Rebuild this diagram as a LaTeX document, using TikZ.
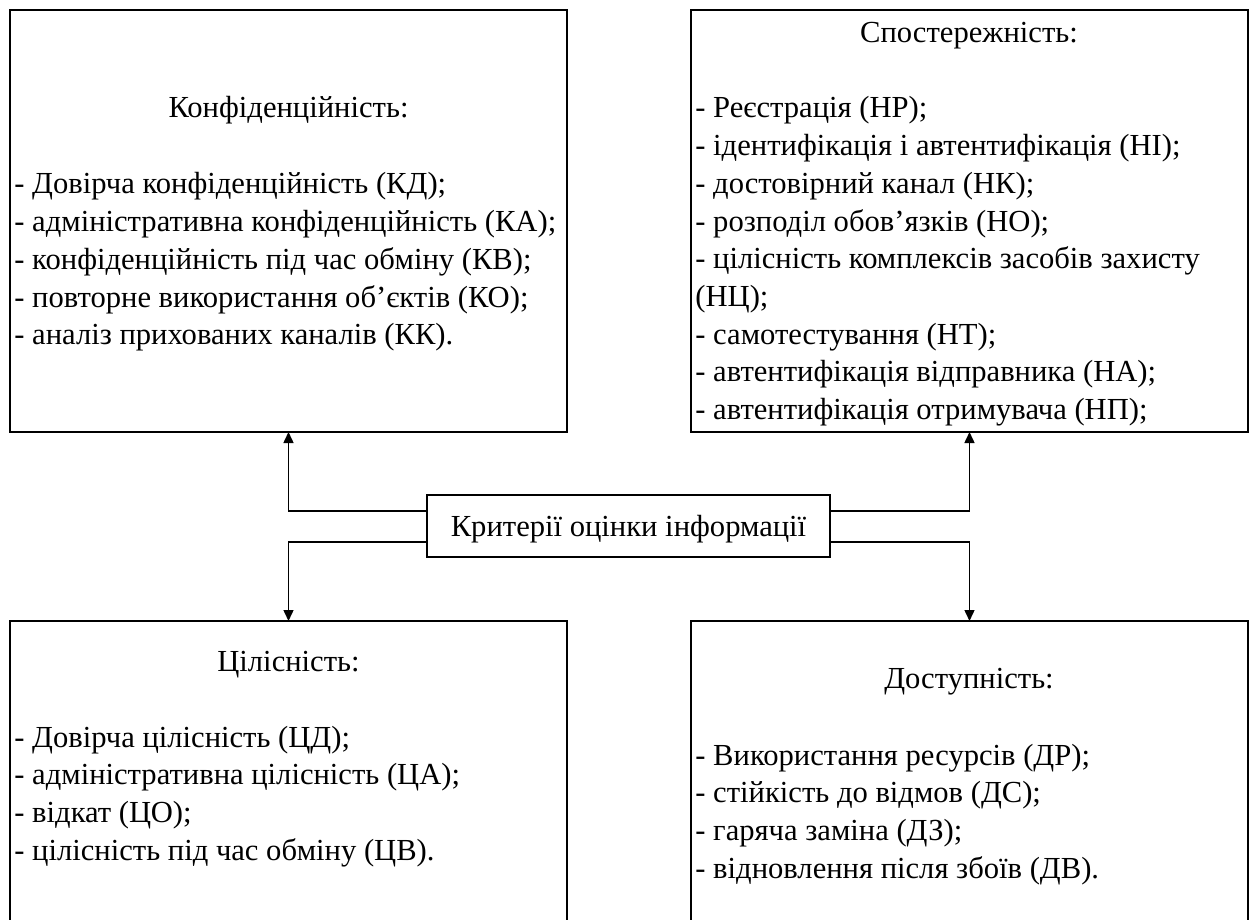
\documentclass[tikz,border=0pt]{standalone}
\usepackage{fontspec}
\setmainfont{Liberation Serif}
\usetikzlibrary{arrows.meta}

\begin{document}
\begin{tikzpicture}[x=0.5pt,y=-0.5pt,
  frame/.style={draw, line width=0.75pt, inner sep=0pt, outer sep=0pt},
  bigbox/.style={frame, anchor=north west, minimum width=278.5pt, minimum height=211pt},
  lowbox/.style={frame, anchor=north west, minimum width=278.5pt, minimum height=165pt},
  txt/.style={inner sep=0pt, font=\fontsize{15.3pt}{18.85pt}\selectfont},
  line/.style={txt, anchor=base west},
  head/.style={txt, anchor=base},
  arr/.style={line width=0.75pt, -{Triangle[length=5.5pt,width=5pt]}}]
\useasboundingbox (0,0) rectangle (1250,920);
\clip (0,0) rectangle (1250,920);

% four criterion boxes and the central one
\node[bigbox] (conf) at (10,10) {};
\node[bigbox] (obs) at (691,10) {};
\node[lowbox] (integ) at (10,621) {};
\node[lowbox] (avail) at (691,621) {};
\node[frame, minimum width=201.5pt, minimum height=31pt, anchor=center] (crit) at (628.5,526) {};
\node[head] (crit-t) at (628.5,537) {Критерії оцінки інформації};

% confidentiality
\node[head] (conf-h) at (288.5,118) {Конфіденційність:};
\foreach \t [count=\i from 0] in {- Довірча конфіденційність (КД);,
  - адміністративна конфіденційність (КА);,
  - конфіденційність під час обміну (КВ);,
  - повторне використання об’єктів (КО);,
  - аналіз прихованих каналів (КК).}
  \node[line] (conf-\i) at (14,194+37.7*\i) {\t};

% accountability
\node[head] (obs-h) at (969,43) {Спостережність:};
\foreach \t [count=\i from 0] in {- Реєстрація (НР);,
  - ідентифікація і автентифікація (НІ);,
  - достовірний канал (НК);,
  - розподіл обов’язків (НО);,
  - цілісність комплексів засобів захисту,
  (НЦ);,
  - самотестування (НТ);,
  - автентифікація відправника (НА);,
  - автентифікація отримувача (НП);}
  \node[line] (obs-\i) at (695,118+37.7*\i) {\t};

% integrity
\node[head] (integ-h) at (288.5,671) {Цілісність:};
\foreach \t [count=\i from 0] in {- Довірча цілісність (ЦД);,
  - адміністративна цілісність (ЦА);,
  - відкат (ЦО);,
  - цілісність під час обміну (ЦВ).}
  \node[line] (integ-\i) at (14,747+37.7*\i) {\t};

% availability
\node[head] (avail-h) at (969,688) {Доступність:};
\foreach \t [count=\i from 0] in {- Використання ресурсів (ДР);,
  - стійкість до відмов (ДС);,
  - гаряча заміна (ДЗ);,
  - відновлення після збоїв (ДВ).}
  \node[line] (avail-\i) at (695,765+37.7*\i) {\t};

% connectors from the central box to each criterion
\draw[arr] ([yshift=7.5pt]crit.west) -| (conf.south);
\draw[arr] ([yshift=-8pt]crit.west) -| (integ.north);
\draw[arr] ([yshift=7.5pt]crit.east) -| (obs.south);
\draw[arr] ([yshift=-8pt]crit.east) -| (avail.north);
\end{tikzpicture}
\end{document}
